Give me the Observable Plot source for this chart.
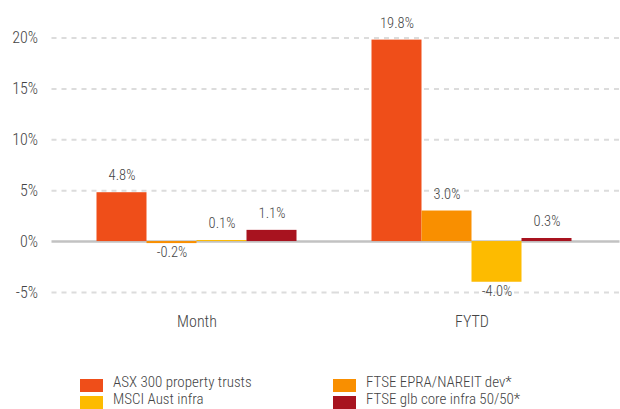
<!DOCTYPE html>
<html>
<head>
<meta charset="utf-8">
<script src="https://cdn.jsdelivr.net/npm/d3@7"></script>
<script src="https://cdn.jsdelivr.net/npm/@observablehq/plot@0.6"></script>
<style>
  html, body { margin: 0; padding: 0; background: #fff; }
  body { width: 620px; height: 409px; overflow: hidden; font-family: "Roboto Condensed", "Liberation Sans", Arial, sans-serif; font-weight: 300; }
  #legend { margin-top: 34px; padding-left: 80px; display: grid; grid-template-columns: 253px auto; row-gap: 0; }
  .item { display: flex; align-items: center; font-size: 15px; line-height: 17px; color: #444; }
  .sw { width: 23px; height: 13px; margin-right: 10px; flex: none; transform: translateY(3px); }
</style>
</head>
<body>
<div id="chart"></div>
<div id="legend"></div>
<script>
const groups = ["Month", "FYTD"];
const seriesNames = ["ASX 300 property trusts", "FTSE EPRA/NAREIT dev*", "MSCI Aust infra", "FTSE glb core infra 50/50*"];
const monthValues = [4.8, -0.2, 0.1, 1.1];
const fytdValues = [19.8, 3.0, -4.0, 0.3];
const seriesColors = ["#EF4E19", "#F98F00", "#FDBB00", "#A8131F"];
const yTicks = [-5, 0, 5, 10, 15, 20];
const legendOrder = [0, 1, 2, 3];

const valuesByGroup = {Month: monthValues, FYTD: fytdValues};
const rows = groups.flatMap(g => seriesNames.map((s, i) => ({group: g, series: s, value: valuesByGroup[g][i]})));
const gridTicks = yTicks.filter(t => t !== 0);
const fontFam = '"Roboto Condensed", "Liberation Sans", Arial, sans-serif';
const labelFmt = d => d.value.toFixed(1) + "%";

const chart = Plot.plot({
  width: 620,
  height: 340,
  marginLeft: 58.5,
  marginRight: 10.5,
  marginTop: 17.2,
  marginBottom: 37.9,
  style: {fontFamily: fontFam, fontSize: "16px", fontWeight: 300, color: "#444", background: "#fff"},
  fx: {domain: groups, padding: 0, axis: "bottom", label: null, tickSize: 0, tickPadding: 13},
  x: {domain: seriesNames, paddingInner: 0, paddingOuter: 0.74, axis: null},
  y: {domain: [-6, 22], ticks: yTicks, tickFormat: d => d + "%", tickSize: 0, tickPadding: 21.5, label: null},
  color: {domain: seriesNames, range: seriesColors},
  marks: [
    Plot.ruleY(gridTicks, {y: d => d, fx: () => "Month", stroke: "#dcdcdc", strokeWidth: 2, strokeDasharray: "5,5", insetLeft: -7.5}),
    Plot.ruleY(gridTicks, {y: d => d, fx: () => "FYTD", stroke: "#dcdcdc", strokeWidth: 2, strokeDasharray: "5,5", insetRight: -10.5}),
    Plot.ruleY([0], {y: d => d, fx: () => "Month", stroke: "#c2c2c2", strokeWidth: 2.5, insetLeft: -7.5}),
    Plot.ruleY([0], {y: d => d, fx: () => "FYTD", stroke: "#c2c2c2", strokeWidth: 2.5, insetRight: -10.5}),
    Plot.barY(rows, {fx: "group", x: "series", y: "value", fill: "series"}),
    Plot.text(rows, {fx: "group", x: "series", y: "value", text: labelFmt, fill: "#444", fontSize: 14.5,
      filter: d => d.value >= 0, dy: -17}),
    Plot.text(rows, {fx: "group", x: "series", y: "value", text: labelFmt, fill: "#444", fontSize: 14.5,
      filter: d => d.value < 0, dy: 9})
  ]
});
document.getElementById("chart").appendChild(chart);

const legend = document.getElementById("legend");
legendOrder.forEach(i => {
  const item = document.createElement("div");
  item.className = "item";
  const sw = document.createElement("span");
  sw.className = "sw";
  sw.style.background = seriesColors[i];
  const label = document.createElement("span");
  label.textContent = seriesNames[i];
  item.appendChild(sw);
  item.appendChild(label);
  legend.appendChild(item);
});
</script>
</body>
</html>
